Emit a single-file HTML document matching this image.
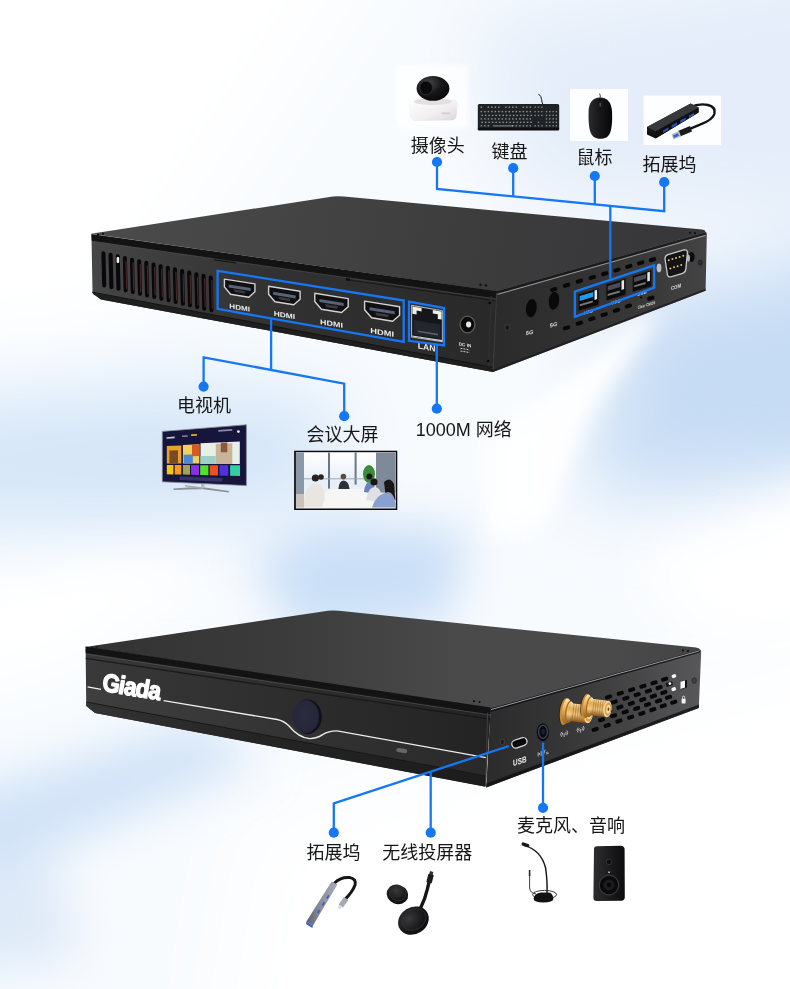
<!DOCTYPE html>
<html lang="zh-CN">
<head>
<meta charset="utf-8">
<title>Giada 接口示意</title>
<style>
html,body{margin:0;padding:0;background:#fff;}
body{width:790px;height:989px;overflow:hidden;font-family:"Liberation Sans", "Noto Sans CJK SC", sans-serif;}
svg{display:block;}
text{font-family:"Liberation Sans", "Noto Sans CJK SC", sans-serif;-webkit-font-smoothing:antialiased;}
svg{will-change:transform;}
.lb{font-size:18px;fill:#161616;}
.ln{fill:none;stroke:#1677f5;stroke-width:2.3;stroke-linejoin:miter;}
.dot{fill:#1677f5;}
</style>
</head>
<body>
<svg width="790" height="989" viewBox="0 0 790 989">
<defs>
<filter id="b60" x="-50%" y="-50%" width="200%" height="200%"><feGaussianBlur stdDeviation="40"/></filter>
<filter id="b30" x="-50%" y="-50%" width="200%" height="200%"><feGaussianBlur stdDeviation="24"/></filter>
<filter id="b12" x="-50%" y="-50%" width="200%" height="200%"><feGaussianBlur stdDeviation="10"/></filter>
<linearGradient id="tTop" gradientUnits="userSpaceOnUse" x1="100" y1="200" x2="640" y2="300"><stop offset="0" stop-color="#4b4b4c"/><stop offset="0.35" stop-color="#444445"/><stop offset="0.7" stop-color="#3c3c3d"/><stop offset="1" stop-color="#38383a"/></linearGradient>
<linearGradient id="tFront" gradientUnits="userSpaceOnUse" x1="92" y1="0" x2="495" y2="0"><stop offset="0" stop-color="#464647"/><stop offset="0.2" stop-color="#3c3c3d"/><stop offset="0.42" stop-color="#323233"/><stop offset="0.8" stop-color="#2c2c2d"/><stop offset="1" stop-color="#29292a"/></linearGradient>
<linearGradient id="tRight" gradientUnits="userSpaceOnUse" x1="497" y1="0" x2="708" y2="0"><stop offset="0" stop-color="#2b2b2c"/><stop offset="0.4" stop-color="#323233"/><stop offset="0.75" stop-color="#3a3a3b"/><stop offset="1" stop-color="#444445"/></linearGradient>
<linearGradient id="tShade" x1="0" y1="0" x2="0" y2="1"><stop offset="0" stop-color="#0c0c0d" stop-opacity="0.95"/><stop offset="0.55" stop-color="#0c0c0d" stop-opacity="0.55"/><stop offset="1" stop-color="#0c0c0d" stop-opacity="0"/></linearGradient>
<linearGradient id="bTop" gradientUnits="userSpaceOnUse" x1="100" y1="0" x2="700" y2="0"><stop offset="0" stop-color="#333334"/><stop offset="0.3" stop-color="#3b3b3c"/><stop offset="0.6" stop-color="#4a4a4b"/><stop offset="0.85" stop-color="#4a4a4b"/><stop offset="1" stop-color="#444445"/></linearGradient>
<linearGradient id="bFront" gradientUnits="userSpaceOnUse" x1="86" y1="0" x2="490" y2="0"><stop offset="0" stop-color="#39393a"/><stop offset="0.25" stop-color="#333334"/><stop offset="0.55" stop-color="#2c2c2d"/><stop offset="0.88" stop-color="#262627"/><stop offset="1" stop-color="#232324"/></linearGradient>
<linearGradient id="bLip" gradientUnits="userSpaceOnUse" x1="86" y1="0" x2="490" y2="0"><stop offset="0" stop-color="#343435"/><stop offset="0.4" stop-color="#252526"/><stop offset="1" stop-color="#1c1c1d"/></linearGradient>
<linearGradient id="bRight" gradientUnits="userSpaceOnUse" x1="490" y1="0" x2="701" y2="0"><stop offset="0" stop-color="#2c2c2d"/><stop offset="0.35" stop-color="#363637"/><stop offset="0.7" stop-color="#474748"/><stop offset="1" stop-color="#58585a"/></linearGradient>
<radialGradient id="btn" cx="0.45" cy="0.45" r="0.7"><stop offset="0" stop-color="#2c2c40"/><stop offset="0.8" stop-color="#25253a"/><stop offset="1" stop-color="#1a1a2a"/></radialGradient>
<linearGradient id="gold" x1="0" y1="0" x2="0" y2="1"><stop offset="0" stop-color="#fbe6b4"/><stop offset="0.45" stop-color="#e4ae56"/><stop offset="1" stop-color="#9a6422"/></linearGradient>
<linearGradient id="bShade" x1="0" y1="0" x2="0" y2="1"><stop offset="0" stop-color="#0c0c0d" stop-opacity="0.9"/><stop offset="0.5" stop-color="#0c0c0d" stop-opacity="0.4"/><stop offset="1" stop-color="#0c0c0d" stop-opacity="0"/></linearGradient>
<linearGradient id="gold2" x1="0" y1="0" x2="0" y2="1"><stop offset="0" stop-color="#fbe3b0"/><stop offset="0.3" stop-color="#e2aa58"/><stop offset="0.6" stop-color="#f0c988"/><stop offset="1" stop-color="#8a5418"/></linearGradient>
<radialGradient id="camBall" cx="0.35" cy="0.3" r="0.8"><stop offset="0" stop-color="#4a4a4e"/><stop offset="0.5" stop-color="#18181a"/><stop offset="1" stop-color="#050506"/></radialGradient>
<linearGradient id="camBase" x1="0" y1="0" x2="1" y2="1"><stop offset="0" stop-color="#ffffff"/><stop offset="0.6" stop-color="#f1eef0"/><stop offset="1" stop-color="#d9d3d8"/></linearGradient>
<linearGradient id="mouseG" x1="0" y1="0" x2="1" y2="0"><stop offset="0" stop-color="#2c2c2e"/><stop offset="0.4" stop-color="#1a1a1c"/><stop offset="1" stop-color="#070708"/></linearGradient>
<linearGradient id="hubG" x1="0" y1="0" x2="0" y2="1"><stop offset="0" stop-color="#3a3a3e"/><stop offset="1" stop-color="#0c0c0e"/></linearGradient>
<linearGradient id="winG" x1="0" y1="0" x2="0" y2="1"><stop offset="0" stop-color="#ffffff"/><stop offset="0.55" stop-color="#e6eef7"/><stop offset="1" stop-color="#f4f4f2"/></linearGradient>
<linearGradient id="hub2G" x1="0" y1="0" x2="1" y2="0"><stop offset="0" stop-color="#5e626e"/><stop offset="0.45" stop-color="#8a8e9a"/><stop offset="1" stop-color="#a9acb6"/></linearGradient>
<radialGradient id="discG" cx="0.4" cy="0.35" r="0.8"><stop offset="0" stop-color="#3a3a3c"/><stop offset="0.6" stop-color="#161618"/><stop offset="1" stop-color="#050506"/></radialGradient>
<linearGradient id="spkG" x1="0" y1="0" x2="1" y2="0"><stop offset="0" stop-color="#2e2e30"/><stop offset="0.5" stop-color="#1c1c1e"/><stop offset="1" stop-color="#0c0c0d"/></linearGradient>
<filter id="soft" x="-20%" y="-20%" width="140%" height="140%"><feGaussianBlur stdDeviation="2.5"/></filter>
</defs>
<rect width="790" height="989" fill="#f8fbfe"/>
<g filter="url(#b60)">
<polygon points="-150,-150 440,-150 120,330 -150,360" fill="#ffffff"/>
<polygon points="-120,410 150,385 340,400 330,510 120,530 -120,520" fill="#d4e5f8"/>
<polygon points="630,300 900,240 900,480 575,495" fill="#c6dbf4"/>
<polygon points="470,20 900,-60 900,230 520,200" fill="#e4edf9"/>
<polygon points="250,820 900,620 900,1150 200,1150" fill="#ffffff"/>
</g>
<g filter="url(#b30)">
<polygon points="250,560 330,520 470,530 450,620 300,640" fill="#cadff7"/>
<polygon points="-60,700 -60,590 120,555 230,560 60,670" fill="#ffffff"/>
<polygon points="-60,800 200,720 260,760 -60,900" fill="#d2e3f7"/>
<polygon points="640,560 840,470 840,640 700,640" fill="#ffffff"/>
<polygon points="-60,880 60,860 80,960 -60,980" fill="#dfeaf8"/>
</g>
<g filter="url(#b12)">
<polygon points="490,440 636,320 660,312 590,416 548,520 490,540" fill="#ffffff" opacity="0.92"/>
</g>
<g id="device-top">
<path d="M91.5 236 L497 291 L493 372 L101 299.6 L92.5 293 Z" fill="url(#tFront)"/>
<path d="M496.5 291 L705.4 232 Q706.9 232 706.8 234 L705.6 290.8 L493 372 Z" fill="url(#tRight)"/>
<path d="M91 233.8 L328 197.2 Q336 195.6 344 196.6 L702 229.6 Q706.6 230.4 705 232.4 L497 291.5 Z" fill="url(#tTop)"/>
<path d="M214 258.6 L236 261.7 L236 263.4 L214 260.3 Z" fill="#101011"/>
<path d="M346 277.6 L350 278.2 L350 281 L346 280.4 Z" fill="#0c0c0d"/>
<path d="M350 279.6 L497 300.2 L497 301.4 L350 280.8 Z" fill="#161617" opacity="0.8"/>
<path d="M91.2 233.9 L497 291.3 L497 298.5 L91.8 240.8 Z" fill="#131314"/>
<path d="M497 291.3 L705.6 232.6 L705.6 235.4 L497 295.5 Z" fill="#161618" opacity="0.85"/>
<path d="M497.4 294.4 L705.6 235.4" stroke="#a4a4a6" stroke-width="1.1" fill="none" opacity="0.85"/>
<path d="M92 241.6 L497 299.2" stroke="#4c4c4e" stroke-width="0.9" fill="none" opacity="0.6"/>
<path d="M92.5 292.4 L493 367.6 L493 372 L101 299.6 L93 294 Z" fill="#1f1f20"/>
<path d="M92.5 292.2 L493 367.4" stroke="#121213" stroke-width="1" fill="none"/>
<path d="M493 369.6 L705.6 288.6 L705.6 290.8 L493 372 Z" fill="#1a1a1b" opacity="0.7"/>
<line x1="103.4" y1="253.2" x2="104.2" y2="285.4" stroke="#08080a" stroke-width="4.1" stroke-linecap="round"/>
<line x1="110.6" y1="254.8" x2="111.4" y2="287.1" stroke="#08080a" stroke-width="4.1" stroke-linecap="round"/>
<line x1="117.7" y1="256.4" x2="118.5" y2="288.7" stroke="#08080a" stroke-width="4.1" stroke-linecap="round"/>
<line x1="124.9" y1="258.1" x2="125.7" y2="290.4" stroke="#08080a" stroke-width="4.1" stroke-linecap="round"/>
<line x1="125.9" y1="261.1" x2="126.6" y2="288.4" stroke="#4c262a" stroke-width="1.1" stroke-linecap="round"/>
<line x1="132.0" y1="259.7" x2="132.8" y2="292.0" stroke="#08080a" stroke-width="4.1" stroke-linecap="round"/>
<line x1="133.0" y1="262.7" x2="133.7" y2="290.0" stroke="#4c262a" stroke-width="1.1" stroke-linecap="round"/>
<line x1="139.2" y1="261.3" x2="140.0" y2="293.7" stroke="#08080a" stroke-width="4.1" stroke-linecap="round"/>
<line x1="140.2" y1="264.3" x2="140.8" y2="291.7" stroke="#4c262a" stroke-width="1.1" stroke-linecap="round"/>
<line x1="146.3" y1="262.9" x2="147.1" y2="295.4" stroke="#08080a" stroke-width="4.1" stroke-linecap="round"/>
<line x1="147.3" y1="265.9" x2="148.0" y2="293.4" stroke="#4c262a" stroke-width="1.1" stroke-linecap="round"/>
<line x1="153.5" y1="264.5" x2="154.3" y2="297.0" stroke="#08080a" stroke-width="4.1" stroke-linecap="round"/>
<line x1="154.5" y1="267.5" x2="155.2" y2="295.0" stroke="#4c262a" stroke-width="1.1" stroke-linecap="round"/>
<line x1="160.6" y1="266.2" x2="161.4" y2="298.7" stroke="#08080a" stroke-width="4.1" stroke-linecap="round"/>
<line x1="161.6" y1="269.2" x2="162.3" y2="296.7" stroke="#4c262a" stroke-width="1.1" stroke-linecap="round"/>
<line x1="167.8" y1="267.8" x2="168.6" y2="300.3" stroke="#08080a" stroke-width="4.1" stroke-linecap="round"/>
<line x1="168.8" y1="270.8" x2="169.4" y2="298.3" stroke="#4c262a" stroke-width="1.1" stroke-linecap="round"/>
<line x1="174.9" y1="269.4" x2="175.7" y2="302.0" stroke="#08080a" stroke-width="4.1" stroke-linecap="round"/>
<line x1="175.9" y1="272.4" x2="176.6" y2="300.0" stroke="#4c262a" stroke-width="1.1" stroke-linecap="round"/>
<line x1="182.1" y1="271.0" x2="182.9" y2="303.7" stroke="#08080a" stroke-width="4.1" stroke-linecap="round"/>
<line x1="183.1" y1="274.0" x2="183.8" y2="301.7" stroke="#4c262a" stroke-width="1.1" stroke-linecap="round"/>
<line x1="189.2" y1="272.6" x2="190.0" y2="305.3" stroke="#08080a" stroke-width="4.1" stroke-linecap="round"/>
<line x1="190.2" y1="275.6" x2="190.9" y2="303.3" stroke="#4c262a" stroke-width="1.1" stroke-linecap="round"/>
<line x1="196.4" y1="274.3" x2="197.2" y2="307.0" stroke="#08080a" stroke-width="4.1" stroke-linecap="round"/>
<line x1="197.4" y1="277.3" x2="198.1" y2="305.0" stroke="#4c262a" stroke-width="1.1" stroke-linecap="round"/>
<line x1="203.5" y1="275.9" x2="204.3" y2="308.6" stroke="#08080a" stroke-width="4.1" stroke-linecap="round"/>
<line x1="204.5" y1="278.9" x2="205.2" y2="306.6" stroke="#4c262a" stroke-width="1.1" stroke-linecap="round"/>
<line x1="210.7" y1="277.5" x2="211.5" y2="310.3" stroke="#08080a" stroke-width="4.1" stroke-linecap="round"/>
<line x1="211.7" y1="280.5" x2="212.3" y2="308.3" stroke="#4c262a" stroke-width="1.1" stroke-linecap="round"/>
<rect x="116.6" y="257" width="2.6" height="6" rx="1" fill="#f0f0f0"/>
<path d="M224.4 279.1 L254.9 283.9 L254.9 291.8 L248.8 297.2 L230.5 294.2 L224.4 286.9 Z" fill="#101012" stroke="#d2d2d4" stroke-width="1.4" stroke-linejoin="round"/>
<path d="M228.7 284.6 L250.7 288.1 L250.7 290.9 L228.7 287.4 Z" fill="#56637a"/>
<path d="M233.6 289.3 L245.8 291.3 L244.6 293.6 L234.8 292.1 Z" fill="#3a3a40"/>
<text transform="matrix(1 0.16 0 1 239.7 306.6)" text-anchor="middle" font-size="6.8" font-weight="700" fill="#ececec" textLength="20.7" lengthAdjust="spacingAndGlyphs" y="3.4">HDMI</text>
<path d="M268.6 286.2 L300.1 291.2 L300.1 299.2 L293.8 304.8 L274.9 301.8 L268.6 294.2 Z" fill="#101012" stroke="#d2d2d4" stroke-width="1.4" stroke-linejoin="round"/>
<path d="M273.1 291.8 L295.7 295.5 L295.7 298.4 L273.1 294.8 Z" fill="#56637a"/>
<path d="M278.1 296.7 L290.7 298.8 L289.4 301.2 L279.4 299.6 Z" fill="#3a3a40"/>
<text transform="matrix(1 0.16 0 1 284.4 314.0)" text-anchor="middle" font-size="6.9" font-weight="700" fill="#ececec" textLength="21.4" lengthAdjust="spacingAndGlyphs" y="3.5">HDMI</text>
<path d="M314.8 293.2 L348.2 298.6 L348.2 306.8 L341.6 312.5 L321.4 309.3 L314.8 301.5 Z" fill="#101012" stroke="#d2d2d4" stroke-width="1.4" stroke-linejoin="round"/>
<path d="M319.4 299.1 L343.6 302.9 L343.6 305.9 L319.4 302.1 Z" fill="#56637a"/>
<path d="M324.8 304.1 L338.2 306.3 L336.9 308.8 L326.1 307.0 Z" fill="#3a3a40"/>
<text transform="matrix(1 0.16 0 1 331.5 322.6)" text-anchor="middle" font-size="7.1" font-weight="700" fill="#ececec" textLength="22.8" lengthAdjust="spacingAndGlyphs" y="3.5">HDMI</text>
<path d="M364.6 301.1 L399.6 306.7 L399.6 315.3 L392.6 321.2 L371.6 317.8 L364.6 309.7 Z" fill="#101012" stroke="#d2d2d4" stroke-width="1.4" stroke-linejoin="round"/>
<path d="M369.5 307.2 L394.7 311.2 L394.7 314.3 L369.5 310.3 Z" fill="#56637a"/>
<path d="M375.1 312.5 L389.1 314.7 L387.7 317.3 L376.5 315.5 Z" fill="#3a3a40"/>
<text transform="matrix(1 0.16 0 1 382.1 331.4)" text-anchor="middle" font-size="7.3" font-weight="700" fill="#ececec" textLength="23.8" lengthAdjust="spacingAndGlyphs" y="3.6">HDMI</text>
<path d="M411.6 305.4 L442.4 310.8 L442.4 341.6 L411.6 337 Z" fill="#14161a" stroke="#aeb2b8" stroke-width="1.1" stroke-linejoin="round"/>
<path d="M412.4 306.4 L421.6 308 L421.6 311.4 L416.6 310.6 L416.6 314.4 L412.4 313.7 Z" fill="#eef0e6"/>
<path d="M432.8 310 L441.6 311.5 L441.6 319.6 L437.8 319 L437.8 314.2 L432.8 313.4 Z" fill="#eef0e0"/>
<path d="M414 320 L440.4 324.6 L440.4 338.6 L414 334.4 Z" fill="#23262c"/>
<path d="M418 330.4 L438 333.8 L438 335.4 L418 332 Z" fill="#6a6e76" opacity="0.8"/>
<path d="M412 336 L442 340.6" stroke="#d0d3d8" stroke-width="1.2" fill="none"/>
<text transform="matrix(1 0.16 0 1 426.5 350)" text-anchor="middle" font-size="8.6" font-weight="700" fill="#ededed">LAN</text>
<ellipse cx="467.5" cy="324.5" rx="7.4" ry="8.4" fill="#0a0a0b" stroke="#5c5c60" stroke-width="1.3"/>
<ellipse cx="468.6" cy="324.4" rx="2.6" ry="3" fill="#e6e6e6"/>
<text transform="matrix(1 0.16 0 1 465 346.5)" text-anchor="middle" font-size="4.6" font-weight="700" fill="#e0e0e0">DC IN</text>
<path d="M460.5 348.3 L469.5 349.8 M460.5 351 L469.5 352.5" stroke="#dcdcdc" stroke-width="0.9" stroke-dasharray="2 1" fill="none"/>
<path d="M490.3 296 L492.3 296.4 L489.5 367 L487.5 366.6 Z" fill="#2e2e30"/>
<circle cx="489.8" cy="303" r="1.3" fill="#050505"/><circle cx="488.2" cy="361" r="1.3" fill="#050505"/>
<path d="M496.6 293 L493.2 369" stroke="#3a3a3d" stroke-width="1.2" fill="none"/>
<circle cx="480.5" cy="284.8" r="1.2" fill="#111"/><circle cx="486" cy="285.4" r="1.2" fill="#111"/>
<circle cx="98" cy="234.6" r="1.1" fill="#111"/><circle cx="103" cy="233.9" r="1.1" fill="#111"/>
<circle cx="690" cy="232.8" r="1.1" fill="#111"/><circle cx="695" cy="233.2" r="1.1" fill="#111"/>
<ellipse cx="507.2" cy="327.6" rx="2.4" ry="2.9" fill="#141416" stroke="#4a4a4e" stroke-width="0.8"/>
<ellipse cx="700.2" cy="262.6" rx="2.1" ry="2.6" fill="#2e2e30" stroke="#1c1c1e" stroke-width="0.8"/>
<ellipse cx="531.3" cy="308.2" rx="5.4" ry="9.2" fill="#09090a" transform="rotate(8 531.3 308.2)"/>
<ellipse cx="554" cy="300.8" rx="5.2" ry="9" fill="#09090a" transform="rotate(8 554 300.8)"/>
<text transform="matrix(1 -0.3 0 1 529.5 334.5)" text-anchor="middle" font-size="5.6" font-weight="700" fill="#dedede">5G</text>
<text transform="matrix(1 -0.3 0 1 553.5 326.6)" text-anchor="middle" font-size="5.6" font-weight="700" fill="#dedede">5G</text>
<rect x="562.8" y="283.3" width="7.4" height="4.0" rx="1.8" fill="#070708" transform="rotate(-17 566.5 285.3)"/>
<rect x="575.7" y="279.2" width="7.4" height="4.0" rx="1.8" fill="#070708" transform="rotate(-17 579.4 281.2)"/>
<rect x="588.6" y="275.4" width="7.4" height="4.0" rx="1.8" fill="#070708" transform="rotate(-17 592.3 277.4)"/>
<rect x="601.1" y="271.7" width="7.4" height="4.0" rx="1.8" fill="#070708" transform="rotate(-17 604.8 273.7)"/>
<rect x="613.3" y="268.0" width="7.4" height="4.0" rx="1.8" fill="#070708" transform="rotate(-17 617.0 270.0)"/>
<rect x="625.2" y="264.4" width="7.4" height="4.0" rx="1.8" fill="#070708" transform="rotate(-17 628.9 266.4)"/>
<rect x="637.0" y="260.9" width="7.4" height="4.0" rx="1.8" fill="#070708" transform="rotate(-17 640.7 262.9)"/>
<rect x="648.8" y="257.7" width="7.4" height="4.0" rx="1.8" fill="#070708" transform="rotate(-17 652.5 259.7)"/>
<rect x="562.8" y="325.9" width="7.4" height="4.0" rx="1.8" fill="#070708" transform="rotate(-17 566.5 327.9)"/>
<rect x="575.7" y="321.2" width="7.4" height="4.0" rx="1.8" fill="#070708" transform="rotate(-17 579.4 323.2)"/>
<rect x="588.1" y="316.9" width="7.4" height="4.0" rx="1.8" fill="#070708" transform="rotate(-17 591.8 318.9)"/>
<rect x="600.4" y="312.6" width="7.4" height="4.0" rx="1.8" fill="#070708" transform="rotate(-17 604.1 314.6)"/>
<rect x="612.7" y="308.3" width="7.4" height="4.0" rx="1.8" fill="#070708" transform="rotate(-17 616.4 310.3)"/>
<rect x="624.7" y="304.0" width="7.4" height="4.0" rx="1.8" fill="#070708" transform="rotate(-17 628.4 306.0)"/>
<rect x="647.1" y="296.2" width="7.4" height="4.0" rx="1.8" fill="#070708" transform="rotate(-17 650.8 298.2)"/>
<rect x="550.0" y="287.5" width="7.4" height="4.0" rx="1.8" fill="#070708" transform="rotate(-17 553.7 289.5)"/>
<path d="M578.2 294.2 L598.8 288.0 L598.8 305.0 L578.2 311.2 Z" fill="#0b0b0c" stroke="#2d2d30" stroke-width="0.8"/>
<path d="M579.7 295.9 L593.3 291.9 L593.3 296.8 L579.7 300.9 Z" fill="#1e9be8"/>
<path d="M594.5 290.5 L597.1 289.7 L597.1 299.1 L594.5 299.9 Z" fill="#e8e8e8"/>
<path d="M579.7 304.3 L592.8 300.4 L592.8 302.4 L579.7 306.3 Z" fill="#77777c"/>
<path d="M606.2 284.2 L625.8 278.3 L625.8 294.9 L606.2 300.8 Z" fill="#0b0b0c" stroke="#2d2d30" stroke-width="0.8"/>
<path d="M607.7 285.9 L620.3 282.2 L620.3 286.9 L607.7 290.7 Z" fill="#4a4a58"/>
<path d="M621.5 280.8 L624.1 280.0 L624.1 289.1 L621.5 289.9 Z" fill="#e8e8e8"/>
<path d="M607.7 294.0 L619.8 290.4 L619.8 292.4 L607.7 296.0 Z" fill="#77777c"/>
<path d="M632.6 275.8 L651.6 270.1 L651.6 286.3 L632.6 292.0 Z" fill="#0b0b0c" stroke="#2d2d30" stroke-width="0.8"/>
<path d="M634.1 277.6 L646.1 273.9 L646.1 278.6 L634.1 282.2 Z" fill="#4a4a58"/>
<path d="M647.3 272.6 L649.9 271.8 L649.9 280.7 L647.3 281.4 Z" fill="#e8e8e8"/>
<path d="M634.1 285.4 L645.6 281.9 L645.6 283.9 L634.1 287.3 Z" fill="#77777c"/>
<text transform="matrix(1 -0.3 0 1 588.5 313.4)" text-anchor="middle" font-size="4.4" font-weight="700" fill="#d8d8d8">USB</text>
<text transform="matrix(1 -0.3 0 1 616.0 303.4)" text-anchor="middle" font-size="4.4" font-weight="700" fill="#d8d8d8">USB</text>
<text transform="matrix(1 -0.3 0 1 642.0 294.8)" text-anchor="middle" font-size="4.4" font-weight="700" fill="#d8d8d8">USB</text>
<text transform="matrix(1 -0.3 0 1 646.5 306.5)" text-anchor="middle" font-size="4.4" font-weight="700" fill="#dcdcdc" textLength="17.5" lengthAdjust="spacingAndGlyphs">Clear CMOS</text>
<circle cx="641.2" cy="297.6" r="1.1" fill="#050505"/>
<ellipse cx="659" cy="268" rx="2.4" ry="4.4" fill="#c0c0c4"/>
<ellipse cx="691.6" cy="257" rx="3" ry="5" fill="#0a0a0a"/>
<ellipse cx="688.4" cy="258" rx="1.6" ry="3.6" fill="#b8b8bc"/>
<path d="M665 258.6 Q665 255.6 668 254.7 L684 250 Q687.4 249.2 687.4 252.6 L685.8 269.4 Q685.4 272.4 682.6 273.3 L671 276.8 Q668 277.5 667.4 274.6 Z" fill="#141417" stroke="#c8c8cc" stroke-width="1.3"/>
<circle cx="668.8" cy="260.2" r="1.0" fill="#e8bc70"/>
<circle cx="672.4" cy="259.1" r="1.0" fill="#e8bc70"/>
<circle cx="676.0" cy="258.0" r="1.0" fill="#e8bc70"/>
<circle cx="679.6" cy="256.9" r="1.0" fill="#e8bc70"/>
<circle cx="683.2" cy="255.8" r="1.0" fill="#e8bc70"/>
<circle cx="670.4" cy="268.4" r="1.0" fill="#e8bc70"/>
<circle cx="674.0" cy="267.3" r="1.0" fill="#e8bc70"/>
<circle cx="677.6" cy="266.2" r="1.0" fill="#e8bc70"/>
<circle cx="681.2" cy="265.1" r="1.0" fill="#e8bc70"/>
<text transform="matrix(0.8 -0.24 0 1 676 288.8)" text-anchor="middle" font-size="5.4" font-weight="700" fill="#e0e0e0">COM</text>
</g>
<g id="device-bottom">
<path d="M85.6 649 L491 708 L485.4 786.5 L95 713 L86.3 706 Z" fill="url(#bFront)"/>
<path d="M86.3 702 L486.2 776 L485.4 786.8 L95 713 L86.3 706 Z" fill="url(#bLip)"/>
<path d="M86.3 702 L486.2 776" stroke="#18181a" stroke-width="1" fill="none"/>
<path d="M163.5 701.4 L283 722.6 L486 758 L486.2 775.4 L86.3 701.6 L87 688 Z" fill="#ffffff" opacity="0.03"/>
<path d="M490.6 708 L699.5 649.6 Q701.3 649.4 701.2 651.4 L698.8 708 L486.2 787.4 Z" fill="url(#bRight)"/>
<path d="M85.3 647 L323 611.4 Q331 609.8 339 610.8 L696 647.6 Q701 648.6 699 650.6 L490.6 708.6 Z" fill="url(#bTop)"/>
<path d="M85.8 658.4 L490.2 719.2" stroke="#161617" stroke-width="1.3" fill="none" opacity="0.85"/>
<path d="M86 654 L490.4 715" stroke="#545456" stroke-width="0.9" fill="none" opacity="0.7"/>
<path d="M85.4 646.6 L490.6 707.4 L490.4 714.2 L85.8 653 Z" fill="#131314"/>
<path d="M490.6 708.3 L700 649.8 L700 652.6 L490.4 712 Z" fill="#121214" opacity="0.9"/>
<path d="M491 709.6 L699.6 650.8" stroke="#b4b4b6" stroke-width="1" fill="none" opacity="0.85"/>
<path d="M486.4 783.4 L699 704.6 L698.8 708 L486.2 787.4 Z" fill="#101012" opacity="0.8"/>
<circle cx="92" cy="648.3" r="1.1" fill="#111"/><circle cx="96.6" cy="647.7" r="1.1" fill="#111"/>
<circle cx="474" cy="701.2" r="1.1" fill="#111"/><circle cx="479.5" cy="702" r="1.1" fill="#111"/>
<circle cx="683" cy="650.4" r="1.1" fill="#111"/><circle cx="688" cy="650.8" r="1.1" fill="#111"/>
<text transform="matrix(0.865 0.142 0 1 102.4 690.8)" font-size="25.6" font-weight="700" font-style="italic" fill="#ffffff" stroke="#ffffff" stroke-width="1.4" stroke-linejoin="round" letter-spacing="-0.9">Giada</text>
<path d="M87.6 686.8 L101 689.3" stroke="#f2f2f2" stroke-width="1.3" fill="none"/>
<path d="M163.5 700.6 L277 719.5 Q284 720.8 289 726 Q299 738 309.6 738.6 Q317 738.6 323 734.4 Q329 730.6 337 730.8 L486 757.7" stroke="#ececec" stroke-width="1.3" fill="none"/>
<ellipse cx="307.4" cy="716.8" rx="14.4" ry="17.4" fill="#101018"/>
<ellipse cx="305.6" cy="716.6" rx="13.4" ry="16.6" fill="url(#btn)"/>
<rect x="396.3" y="748.5" width="11" height="4.2" rx="2.1" fill="#66666e" transform="rotate(10 401.8 750.6)"/>
<path d="M487.6 712.5 L485.6 786" stroke="#3c3c3f" stroke-width="1.2" fill="none"/>
<ellipse cx="502.3" cy="741.9" rx="2.2" ry="2.8" fill="#1c1c1e" stroke="#48484c" stroke-width="0.8"/>
<ellipse cx="694.2" cy="680.6" rx="2.2" ry="2.8" fill="#424244" stroke="#2a2a2c" stroke-width="0.8"/>
<rect x="511.6" y="738.8" width="15.6" height="8" rx="4" fill="#08080a" stroke="#dcdcde" stroke-width="1.3" transform="rotate(-19 519.4 742.8)"/>
<text transform="matrix(0.74 -0.22 0 1 519.8 764)" text-anchor="middle" font-size="8.6" font-weight="700" fill="#f0f0f0">USB</text>
<ellipse cx="542.8" cy="732.2" rx="6" ry="9" fill="#0a0a0c"/>
<ellipse cx="543" cy="731.8" rx="4.4" ry="6.6" fill="#0a0a0e" stroke="#3a4660" stroke-width="1.3"/>
<ellipse cx="543.2" cy="731.6" rx="1.8" ry="2.8" fill="#1c2030"/>
<g transform="matrix(1 -0.3 0 1 542.8 753)" stroke="#e0e0e0" stroke-width="0.7" fill="none"><path d="M-4.6 -2 v4 M-3.2 -1 v2 M-1.6 -2.4 v4.8 M0.4 2.6 l2 -5.2 M3.4 0.6 h1.6 M3.4 2 h2.4"/></g>
<g transform="matrix(1 -0.3 0 1 564.2 734)" stroke="#dcdcdc" stroke-width="0.7" fill="none"><path d="M0 -0.6 v3.6 M-1.4 -1.8 q-1 1.4 0 2.8 M1.4 -1.8 q1 1.4 0 2.8 M-2.6 -2.8 q-1.8 2.4 0 4.8 M2.6 -2.8 q1.8 2.4 0 4.8"/></g>
<g transform="matrix(1 -0.3 0 1 580.6 729.6)" stroke="#dcdcdc" stroke-width="0.7" fill="none"><path d="M0 -0.6 v3.6 M-1.4 -1.8 q-1 1.4 0 2.8 M1.4 -1.8 q1 1.4 0 2.8 M-2.6 -2.8 q-1.8 2.4 0 4.8 M2.6 -2.8 q1.8 2.4 0 4.8"/></g>
<rect x="604.9" y="695.0" width="7.2" height="4.0" rx="1.5" fill="#08080a" transform="rotate(-18 608.5 697.0)"/>
<rect x="616.7" y="691.3" width="7.2" height="4.0" rx="1.5" fill="#08080a" transform="rotate(-18 620.3 693.3)"/>
<rect x="628.0" y="687.7" width="7.2" height="4.0" rx="1.5" fill="#08080a" transform="rotate(-18 631.6 689.7)"/>
<rect x="639.3" y="684.2" width="7.2" height="4.0" rx="1.5" fill="#08080a" transform="rotate(-18 642.9 686.2)"/>
<rect x="650.5" y="680.8" width="7.2" height="4.0" rx="1.5" fill="#08080a" transform="rotate(-18 654.1 682.8)"/>
<rect x="661.0" y="677.2" width="7.2" height="4.0" rx="1.5" fill="#08080a" transform="rotate(-18 664.6 679.2)"/>
<rect x="610.6" y="700.0" width="7.2" height="4.0" rx="1.5" fill="#08080a" transform="rotate(-18 614.2 702.0)"/>
<rect x="622.2" y="696.2" width="7.2" height="4.0" rx="1.5" fill="#08080a" transform="rotate(-18 625.8 698.2)"/>
<rect x="633.6" y="692.6" width="7.2" height="4.0" rx="1.5" fill="#08080a" transform="rotate(-18 637.2 694.6)"/>
<rect x="644.8" y="689.0" width="7.2" height="4.0" rx="1.5" fill="#08080a" transform="rotate(-18 648.4 691.0)"/>
<rect x="655.5" y="685.6" width="7.2" height="4.0" rx="1.5" fill="#08080a" transform="rotate(-18 659.1 687.6)"/>
<rect x="604.9" y="708.6" width="7.2" height="4.0" rx="1.5" fill="#08080a" transform="rotate(-18 608.5 710.6)"/>
<rect x="616.3" y="705.1" width="7.2" height="4.0" rx="1.5" fill="#08080a" transform="rotate(-18 619.9 707.1)"/>
<rect x="627.7" y="701.4" width="7.2" height="4.0" rx="1.5" fill="#08080a" transform="rotate(-18 631.3 703.4)"/>
<rect x="639.1" y="697.6" width="7.2" height="4.0" rx="1.5" fill="#08080a" transform="rotate(-18 642.7 699.6)"/>
<rect x="649.8" y="694.1" width="7.2" height="4.0" rx="1.5" fill="#08080a" transform="rotate(-18 653.4 696.1)"/>
<rect x="660.2" y="690.5" width="7.2" height="4.0" rx="1.5" fill="#08080a" transform="rotate(-18 663.8 692.5)"/>
<rect x="597.9" y="717.7" width="7.2" height="4.0" rx="1.5" fill="#08080a" transform="rotate(-18 601.5 719.7)"/>
<rect x="609.9" y="713.7" width="7.2" height="4.0" rx="1.5" fill="#08080a" transform="rotate(-18 613.5 715.7)"/>
<rect x="621.6" y="709.9" width="7.2" height="4.0" rx="1.5" fill="#08080a" transform="rotate(-18 625.2 711.9)"/>
<rect x="633.0" y="706.4" width="7.2" height="4.0" rx="1.5" fill="#08080a" transform="rotate(-18 636.6 708.4)"/>
<rect x="643.9" y="702.6" width="7.2" height="4.0" rx="1.5" fill="#08080a" transform="rotate(-18 647.5 704.6)"/>
<rect x="654.9" y="698.9" width="7.2" height="4.0" rx="1.5" fill="#08080a" transform="rotate(-18 658.5 700.9)"/>
<rect x="665.0" y="695.3" width="7.2" height="4.0" rx="1.5" fill="#08080a" transform="rotate(-18 668.6 697.3)"/>
<rect x="591.6" y="727.4" width="7.2" height="4.0" rx="1.5" fill="#08080a" transform="rotate(-18 595.2 729.4)"/>
<rect x="603.6" y="723.4" width="7.2" height="4.0" rx="1.5" fill="#08080a" transform="rotate(-18 607.2 725.4)"/>
<rect x="615.3" y="719.1" width="7.2" height="4.0" rx="1.5" fill="#08080a" transform="rotate(-18 618.9 721.1)"/>
<rect x="627.0" y="715.2" width="7.2" height="4.0" rx="1.5" fill="#08080a" transform="rotate(-18 630.6 717.2)"/>
<rect x="638.2" y="711.4" width="7.2" height="4.0" rx="1.5" fill="#08080a" transform="rotate(-18 641.8 713.4)"/>
<rect x="649.2" y="707.6" width="7.2" height="4.0" rx="1.5" fill="#08080a" transform="rotate(-18 652.8 709.6)"/>
<rect x="659.7" y="703.8" width="7.2" height="4.0" rx="1.5" fill="#08080a" transform="rotate(-18 663.3 705.8)"/>
<rect x="670.1" y="700.2" width="7.2" height="4.0" rx="1.5" fill="#08080a" transform="rotate(-18 673.7 702.2)"/>
<rect x="665.6" y="682.1" width="7.2" height="4.0" rx="1.5" fill="#141416" transform="rotate(-18 669.2 684.1)"/>
<circle cx="669.9" cy="683.6" r="1.4" fill="#f2f4f6"/>
<rect x="671.6" y="674.3" width="4.6" height="3.6" rx="1.5" fill="#f4f6f8" transform="rotate(-18 673.9 676.1)"/>
<rect x="671.4" y="687.3" width="4.6" height="3.6" rx="1.5" fill="#f4f6f8" transform="rotate(-18 673.7 689.1)"/>
<path d="M680.4 681.6 L686 680 Q687 679.8 687 680.8 L687 686.8 Q687 687.6 686.2 687.8 L681 689.2 Q680.4 689.2 680.4 688.4 Z" fill="#101012"/>
<path d="M680.4 681.8 L685 680.5 L685 687.6 L680.4 688.9 Z" fill="#f6f6f6"/>
<rect x="681.6" y="698.8" width="4" height="4.6" rx="0.6" fill="#f0f0f0"/><path d="M682.5 698.8 v-1.4 a1.1 1.3 0 0 1 2.2 0 v1.4" stroke="#f0f0f0" stroke-width="0.8" fill="none"/>
<g transform="translate(575.8 712.8) scale(1.06) rotate(7)">
<ellipse cx="-12.6" cy="0" rx="3.4" ry="11.2" fill="#2a1c0a" opacity="0.55"/>
<ellipse cx="-10.4" cy="0" rx="4.6" ry="12.8" fill="#c98c34"/>
<ellipse cx="-9" cy="-0.4" rx="4.2" ry="12" fill="url(#gold)"/>
<ellipse cx="-6.4" cy="0" rx="3.6" ry="10.6" fill="#a66a1e"/>
<ellipse cx="-5.4" cy="0" rx="3.4" ry="10" fill="url(#gold2)"/>
<rect x="-5" y="-8.4" width="17" height="16.8" rx="1.5" fill="url(#gold2)"/>
<line x1="-2.6" y1="-8" x2="-2.6" y2="8" stroke="#9a6420" stroke-width="0.7" opacity="0.75"/>
<line x1="-0.3" y1="-8" x2="-0.3" y2="8" stroke="#9a6420" stroke-width="0.7" opacity="0.75"/>
<line x1="2.0" y1="-8" x2="2.0" y2="8" stroke="#9a6420" stroke-width="0.7" opacity="0.75"/>
<line x1="4.3" y1="-8" x2="4.3" y2="8" stroke="#9a6420" stroke-width="0.7" opacity="0.75"/>
<line x1="6.6" y1="-8" x2="6.6" y2="8" stroke="#9a6420" stroke-width="0.7" opacity="0.75"/>
<line x1="8.9" y1="-8" x2="8.9" y2="8" stroke="#9a6420" stroke-width="0.7" opacity="0.75"/>
<ellipse cx="12" cy="0" rx="4.2" ry="8.4" fill="#f2d596"/>
<ellipse cx="12.6" cy="0" rx="3.3" ry="6.8" fill="#d69a42"/>
<ellipse cx="12.9" cy="0" rx="2.1" ry="4.6" fill="#f3dcae"/>
<ellipse cx="13" cy="0" rx="0.9" ry="1.8" fill="#6a4212"/>
</g>
<g transform="translate(595.8 707.6) scale(0.98) rotate(7)">
<ellipse cx="-12.6" cy="0" rx="3.4" ry="11.2" fill="#2a1c0a" opacity="0.55"/>
<ellipse cx="-10.4" cy="0" rx="4.6" ry="12.8" fill="#c98c34"/>
<ellipse cx="-9" cy="-0.4" rx="4.2" ry="12" fill="url(#gold)"/>
<ellipse cx="-6.4" cy="0" rx="3.6" ry="10.6" fill="#a66a1e"/>
<ellipse cx="-5.4" cy="0" rx="3.4" ry="10" fill="url(#gold2)"/>
<rect x="-5" y="-8.4" width="17" height="16.8" rx="1.5" fill="url(#gold2)"/>
<line x1="-2.6" y1="-8" x2="-2.6" y2="8" stroke="#9a6420" stroke-width="0.7" opacity="0.75"/>
<line x1="-0.3" y1="-8" x2="-0.3" y2="8" stroke="#9a6420" stroke-width="0.7" opacity="0.75"/>
<line x1="2.0" y1="-8" x2="2.0" y2="8" stroke="#9a6420" stroke-width="0.7" opacity="0.75"/>
<line x1="4.3" y1="-8" x2="4.3" y2="8" stroke="#9a6420" stroke-width="0.7" opacity="0.75"/>
<line x1="6.6" y1="-8" x2="6.6" y2="8" stroke="#9a6420" stroke-width="0.7" opacity="0.75"/>
<line x1="8.9" y1="-8" x2="8.9" y2="8" stroke="#9a6420" stroke-width="0.7" opacity="0.75"/>
<ellipse cx="12" cy="0" rx="4.2" ry="8.4" fill="#f2d596"/>
<ellipse cx="12.6" cy="0" rx="3.3" ry="6.8" fill="#d69a42"/>
<ellipse cx="12.9" cy="0" rx="2.1" ry="4.6" fill="#f3dcae"/>
<ellipse cx="13" cy="0" rx="0.9" ry="1.8" fill="#6a4212"/>
</g>
</g>
<g id="icon-camera">
<rect x="398" y="66" width="70" height="62" fill="#ffffff" opacity="0.8" filter="url(#soft)"/>
<path d="M408 103.5 Q408 100.8 411 100.6 L453.5 99.4 Q457.5 99.4 457.6 103 L456.6 115.5 Q456.2 119.6 451.6 120.2 L416.5 121 Q411 121 410 116.6 Z" fill="url(#camBase)"/>
<ellipse cx="432.8" cy="101.6" rx="19" ry="3.4" fill="#e4dfe3"/>
<ellipse cx="433" cy="88.4" rx="16.4" ry="12.4" fill="url(#camBall)"/>
<ellipse cx="426" cy="88" rx="6.5" ry="6.8" fill="#0a0a0c" stroke="#2c2c30" stroke-width="1"/>
<rect x="441.6" y="112.6" width="8.6" height="1.6" rx="0.5" fill="#d3cdd2"/>
</g>
<g id="icon-keyboard">
<path d="M538.4 93.9 Q541.4 96 541.6 99.6 Q541.8 102.4 542.8 104.2" stroke="#1a1a1c" stroke-width="1" fill="none"/>
<rect x="477.8" y="104" width="81.4" height="26" rx="1.6" fill="#1f2226"/>
<rect x="477.8" y="127.8" width="81.4" height="2.6" rx="1.2" fill="#0e0f11"/>
<rect x="480.60" y="106.50" width="1.5" height="1.4" fill="#d8d8c8" opacity="0.62"/>
<rect x="487.60" y="106.50" width="1.5" height="1.4" fill="#d8d8c8" opacity="0.62"/>
<rect x="491.10" y="106.50" width="1.5" height="1.4" fill="#d8d8c8" opacity="0.62"/>
<rect x="494.60" y="106.50" width="1.5" height="1.4" fill="#d8d8c8" opacity="0.62"/>
<rect x="498.10" y="106.50" width="1.5" height="1.4" fill="#d8d8c8" opacity="0.62"/>
<rect x="505.10" y="106.50" width="1.5" height="1.4" fill="#d8d8c8" opacity="0.62"/>
<rect x="508.60" y="106.50" width="1.5" height="1.4" fill="#d8d8c8" opacity="0.62"/>
<rect x="512.10" y="106.50" width="1.5" height="1.4" fill="#d8d8c8" opacity="0.62"/>
<rect x="515.60" y="106.50" width="1.5" height="1.4" fill="#d8d8c8" opacity="0.62"/>
<rect x="522.60" y="106.50" width="1.5" height="1.4" fill="#d8d8c8" opacity="0.62"/>
<rect x="526.10" y="106.50" width="1.5" height="1.4" fill="#d8d8c8" opacity="0.62"/>
<rect x="529.60" y="106.50" width="1.5" height="1.4" fill="#d8d8c8" opacity="0.62"/>
<rect x="534.40" y="106.50" width="1.4" height="1.4" fill="#d8d8c8" opacity="0.55"/>
<rect x="537.80" y="106.50" width="1.4" height="1.4" fill="#d8d8c8" opacity="0.55"/>
<rect x="541.20" y="106.50" width="1.4" height="1.4" fill="#d8d8c8" opacity="0.55"/>
<rect x="480.60" y="110.90" width="1.5" height="1.4" fill="#d8d8c8" opacity="0.62"/>
<rect x="484.10" y="110.90" width="1.5" height="1.4" fill="#d8d8c8" opacity="0.62"/>
<rect x="487.60" y="110.90" width="1.5" height="1.4" fill="#d8d8c8" opacity="0.62"/>
<rect x="491.10" y="110.90" width="1.5" height="1.4" fill="#d8d8c8" opacity="0.62"/>
<rect x="494.60" y="110.90" width="1.5" height="1.4" fill="#d8d8c8" opacity="0.62"/>
<rect x="498.10" y="110.90" width="1.5" height="1.4" fill="#d8d8c8" opacity="0.62"/>
<rect x="501.60" y="110.90" width="1.5" height="1.4" fill="#d8d8c8" opacity="0.62"/>
<rect x="505.10" y="110.90" width="1.5" height="1.4" fill="#d8d8c8" opacity="0.62"/>
<rect x="508.60" y="110.90" width="1.5" height="1.4" fill="#d8d8c8" opacity="0.62"/>
<rect x="512.10" y="110.90" width="1.5" height="1.4" fill="#d8d8c8" opacity="0.62"/>
<rect x="515.60" y="110.90" width="1.5" height="1.4" fill="#d8d8c8" opacity="0.62"/>
<rect x="519.10" y="110.90" width="1.5" height="1.4" fill="#d8d8c8" opacity="0.62"/>
<rect x="522.60" y="110.90" width="1.5" height="1.4" fill="#d8d8c8" opacity="0.62"/>
<rect x="526.10" y="110.90" width="1.5" height="1.4" fill="#d8d8c8" opacity="0.62"/>
<rect x="529.60" y="110.90" width="1.5" height="1.4" fill="#d8d8c8" opacity="0.62"/>
<rect x="534.40" y="110.90" width="1.4" height="1.4" fill="#d8d8c8" opacity="0.55"/>
<rect x="537.80" y="110.90" width="1.4" height="1.4" fill="#d8d8c8" opacity="0.55"/>
<rect x="541.20" y="110.90" width="1.4" height="1.4" fill="#d8d8c8" opacity="0.55"/>
<rect x="545.80" y="110.90" width="1.4" height="1.4" fill="#d8d8c8" opacity="0.58"/>
<rect x="549.10" y="110.90" width="1.4" height="1.4" fill="#d8d8c8" opacity="0.58"/>
<rect x="552.40" y="110.90" width="1.4" height="1.4" fill="#d8d8c8" opacity="0.58"/>
<rect x="555.70" y="110.90" width="1.4" height="1.4" fill="#d8d8c8" opacity="0.58"/>
<rect x="481.40" y="114.70" width="1.5" height="1.4" fill="#d8d8c8" opacity="0.62"/>
<rect x="484.90" y="114.70" width="1.5" height="1.4" fill="#d8d8c8" opacity="0.62"/>
<rect x="488.40" y="114.70" width="1.5" height="1.4" fill="#d8d8c8" opacity="0.62"/>
<rect x="491.90" y="114.70" width="1.5" height="1.4" fill="#d8d8c8" opacity="0.62"/>
<rect x="495.40" y="114.70" width="1.5" height="1.4" fill="#d8d8c8" opacity="0.62"/>
<rect x="498.90" y="114.70" width="1.5" height="1.4" fill="#d8d8c8" opacity="0.62"/>
<rect x="502.40" y="114.70" width="1.5" height="1.4" fill="#d8d8c8" opacity="0.62"/>
<rect x="505.90" y="114.70" width="1.5" height="1.4" fill="#d8d8c8" opacity="0.62"/>
<rect x="509.40" y="114.70" width="1.5" height="1.4" fill="#d8d8c8" opacity="0.62"/>
<rect x="512.90" y="114.70" width="1.5" height="1.4" fill="#d8d8c8" opacity="0.62"/>
<rect x="516.40" y="114.70" width="1.5" height="1.4" fill="#d8d8c8" opacity="0.62"/>
<rect x="519.90" y="114.70" width="1.5" height="1.4" fill="#d8d8c8" opacity="0.62"/>
<rect x="523.40" y="114.70" width="1.5" height="1.4" fill="#d8d8c8" opacity="0.62"/>
<rect x="526.90" y="114.70" width="1.5" height="1.4" fill="#d8d8c8" opacity="0.62"/>
<rect x="530.40" y="114.70" width="1.5" height="1.4" fill="#d8d8c8" opacity="0.62"/>
<rect x="534.40" y="114.70" width="1.4" height="1.4" fill="#d8d8c8" opacity="0.55"/>
<rect x="537.80" y="114.70" width="1.4" height="1.4" fill="#d8d8c8" opacity="0.55"/>
<rect x="541.20" y="114.70" width="1.4" height="1.4" fill="#d8d8c8" opacity="0.55"/>
<rect x="545.80" y="114.70" width="1.4" height="1.4" fill="#d8d8c8" opacity="0.58"/>
<rect x="549.10" y="114.70" width="1.4" height="1.4" fill="#d8d8c8" opacity="0.58"/>
<rect x="552.40" y="114.70" width="1.4" height="1.4" fill="#d8d8c8" opacity="0.58"/>
<rect x="555.70" y="114.70" width="1.4" height="1.4" fill="#d8d8c8" opacity="0.58"/>
<rect x="480.60" y="118.20" width="1.5" height="1.4" fill="#d8d8c8" opacity="0.62"/>
<rect x="484.10" y="118.20" width="1.5" height="1.4" fill="#d8d8c8" opacity="0.62"/>
<rect x="487.60" y="118.20" width="1.5" height="1.4" fill="#d8d8c8" opacity="0.62"/>
<rect x="491.10" y="118.20" width="1.5" height="1.4" fill="#d8d8c8" opacity="0.62"/>
<rect x="494.60" y="118.20" width="1.5" height="1.4" fill="#d8d8c8" opacity="0.62"/>
<rect x="498.10" y="118.20" width="1.5" height="1.4" fill="#d8d8c8" opacity="0.62"/>
<rect x="501.60" y="118.20" width="1.5" height="1.4" fill="#d8d8c8" opacity="0.62"/>
<rect x="505.10" y="118.20" width="1.5" height="1.4" fill="#d8d8c8" opacity="0.62"/>
<rect x="508.60" y="118.20" width="1.5" height="1.4" fill="#d8d8c8" opacity="0.62"/>
<rect x="512.10" y="118.20" width="1.5" height="1.4" fill="#d8d8c8" opacity="0.62"/>
<rect x="515.60" y="118.20" width="1.5" height="1.4" fill="#d8d8c8" opacity="0.62"/>
<rect x="519.10" y="118.20" width="1.5" height="1.4" fill="#d8d8c8" opacity="0.62"/>
<rect x="522.60" y="118.20" width="1.5" height="1.4" fill="#d8d8c8" opacity="0.62"/>
<rect x="526.10" y="118.20" width="1.5" height="1.4" fill="#d8d8c8" opacity="0.62"/>
<rect x="529.60" y="118.20" width="1.5" height="1.4" fill="#d8d8c8" opacity="0.62"/>
<rect x="545.80" y="118.20" width="1.4" height="1.4" fill="#d8d8c8" opacity="0.58"/>
<rect x="549.10" y="118.20" width="1.4" height="1.4" fill="#d8d8c8" opacity="0.58"/>
<rect x="552.40" y="118.20" width="1.4" height="1.4" fill="#d8d8c8" opacity="0.58"/>
<rect x="555.70" y="118.20" width="1.4" height="1.4" fill="#d8d8c8" opacity="0.58"/>
<rect x="481.40" y="121.60" width="1.5" height="1.4" fill="#d8d8c8" opacity="0.62"/>
<rect x="484.90" y="121.60" width="1.5" height="1.4" fill="#d8d8c8" opacity="0.62"/>
<rect x="488.40" y="121.60" width="1.5" height="1.4" fill="#d8d8c8" opacity="0.62"/>
<rect x="491.90" y="121.60" width="1.5" height="1.4" fill="#d8d8c8" opacity="0.62"/>
<rect x="495.40" y="121.60" width="1.5" height="1.4" fill="#d8d8c8" opacity="0.62"/>
<rect x="498.90" y="121.60" width="1.5" height="1.4" fill="#d8d8c8" opacity="0.62"/>
<rect x="502.40" y="121.60" width="1.5" height="1.4" fill="#d8d8c8" opacity="0.62"/>
<rect x="505.90" y="121.60" width="1.5" height="1.4" fill="#d8d8c8" opacity="0.62"/>
<rect x="509.40" y="121.60" width="1.5" height="1.4" fill="#d8d8c8" opacity="0.62"/>
<rect x="512.90" y="121.60" width="1.5" height="1.4" fill="#d8d8c8" opacity="0.62"/>
<rect x="516.40" y="121.60" width="1.5" height="1.4" fill="#d8d8c8" opacity="0.62"/>
<rect x="519.90" y="121.60" width="1.5" height="1.4" fill="#d8d8c8" opacity="0.62"/>
<rect x="523.40" y="121.60" width="1.5" height="1.4" fill="#d8d8c8" opacity="0.62"/>
<rect x="526.90" y="121.60" width="1.5" height="1.4" fill="#d8d8c8" opacity="0.62"/>
<rect x="530.40" y="121.60" width="1.5" height="1.4" fill="#d8d8c8" opacity="0.62"/>
<rect x="537.80" y="121.60" width="1.4" height="1.4" fill="#d8d8c8" opacity="0.55"/>
<rect x="545.80" y="121.60" width="1.4" height="1.4" fill="#d8d8c8" opacity="0.58"/>
<rect x="549.10" y="121.60" width="1.4" height="1.4" fill="#d8d8c8" opacity="0.58"/>
<rect x="552.40" y="121.60" width="1.4" height="1.4" fill="#d8d8c8" opacity="0.58"/>
<rect x="555.70" y="121.60" width="1.4" height="1.4" fill="#d8d8c8" opacity="0.58"/>
<rect x="480.60" y="125.10" width="1.5" height="1.4" fill="#d8d8c8" opacity="0.62"/>
<rect x="484.10" y="125.10" width="1.5" height="1.4" fill="#d8d8c8" opacity="0.62"/>
<rect x="487.60" y="125.10" width="1.5" height="1.4" fill="#d8d8c8" opacity="0.62"/>
<rect x="512.10" y="125.10" width="1.5" height="1.4" fill="#d8d8c8" opacity="0.62"/>
<rect x="515.60" y="125.10" width="1.5" height="1.4" fill="#d8d8c8" opacity="0.62"/>
<rect x="519.10" y="125.10" width="1.5" height="1.4" fill="#d8d8c8" opacity="0.62"/>
<rect x="522.60" y="125.10" width="1.5" height="1.4" fill="#d8d8c8" opacity="0.62"/>
<rect x="526.10" y="125.10" width="1.5" height="1.4" fill="#d8d8c8" opacity="0.62"/>
<rect x="529.60" y="125.10" width="1.5" height="1.4" fill="#d8d8c8" opacity="0.62"/>
<rect x="534.40" y="125.10" width="1.4" height="1.4" fill="#d8d8c8" opacity="0.55"/>
<rect x="537.80" y="125.10" width="1.4" height="1.4" fill="#d8d8c8" opacity="0.55"/>
<rect x="541.20" y="125.10" width="1.4" height="1.4" fill="#d8d8c8" opacity="0.55"/>
<rect x="545.80" y="125.10" width="1.4" height="1.4" fill="#d8d8c8" opacity="0.58"/>
<rect x="549.10" y="125.10" width="1.4" height="1.4" fill="#d8d8c8" opacity="0.58"/>
<rect x="552.40" y="125.10" width="1.4" height="1.4" fill="#d8d8c8" opacity="0.58"/>
<rect x="555.70" y="125.10" width="1.4" height="1.4" fill="#d8d8c8" opacity="0.58"/>
<rect x="493" y="125.2" width="20" height="1.3" fill="#c8c8b8" opacity="0.5"/>
</g>
<g id="icon-mouse">
<rect x="570" y="89" width="58" height="52" fill="#ffffff" opacity="0.9"/>
<path d="M599.6 93.6 Q600.6 95.6 600.2 97.6" stroke="#222" stroke-width="0.9" fill="none"/>
<path d="M600.2 97.4 C593 97.4 588.8 102.6 588.6 111 C588.4 119 588.6 127 590.6 132.6 C592.6 137.6 596.4 138.8 600.4 138.8 C604.6 138.8 608.4 137.6 610.2 132.6 C612.2 127 612.4 119 612 111 C611.6 102.6 607.4 97.4 600.2 97.4 Z" fill="url(#mouseG)"/>
<path d="M600.2 98.4 L600.2 110.5" stroke="#050505" stroke-width="0.7"/>
<rect x="599.4" y="102.4" width="1.7" height="4.4" rx="0.8" fill="#4a4a4e"/>
</g>
<g id="icon-hub">
<rect x="643.5" y="95.5" width="77.5" height="49.5" fill="#ffffff" opacity="0.92"/>
<path d="M690 107.4 Q699 103 708 105 Q716 107 714.4 114 Q712.6 120 700 124.6 L688 129.6" stroke="#111113" stroke-width="2.4" fill="none" stroke-linecap="round"/>
<path d="M647 127 L690.6 103.6 L698.6 107.6 L698.6 112.4 L655.6 138.6 L647 134.6 Z" fill="url(#hubG)"/>
<path d="M647 127 L690.6 103.6 L698.6 107.6 L655.6 131.4 Z" fill="#38383c"/>
<path d="M655.6 131.4 L698.6 107.6 L698.6 112.4 L655.6 138.6 Z" fill="#101012"/>
<path d="M663.0 130.4 l5.4 -3 l0 2.4 l-5.4 3 Z" fill="#2a56b8"/>
<path d="M671.6 125.5 l5.4 -3 l0 2.4 l-5.4 3 Z" fill="#2a56b8"/>
<path d="M680.2 120.6 l5.4 -3 l0 2.4 l-5.4 3 Z" fill="#2a56b8"/>
<path d="M688.8 115.7 l5.4 -3 l0 2.4 l-5.4 3 Z" fill="#2a56b8"/>
<path d="M678 131 L690 126 L692 131.4 L680 136.6 Z" fill="#1a1a1c"/>
<path d="M671.6 134.2 L679 131 L681 136.2 L673.6 139.6 Z" fill="#b9bec6"/>
<path d="M673 135.4 L678 133.2 L679 135.8 L674 138 Z" fill="#2a66d8"/>
</g>
<g id="icon-tv">
<path d="M173.4 488.6 Q190 487 203 487.2 L229 491 L228.6 492.4 L203 489.2 Q190 489 173.6 490 Z" fill="#8e8e94"/>
<path d="M185 485 L203 487.4 L203 489 L185 486.4 Z" fill="#a8a8ae"/>
<path d="M201 483 L204.4 483 L204.4 488 L201 488 Z" fill="#b8b8be"/>
<path d="M162.3 431.4 L246.4 424.8 L246.4 485.6 L162.3 481.8 Z" fill="#16163c" stroke="#8a8a92" stroke-width="0.8"/>
<path d="M166.8 446.0 L181.3 445.4 L181.3 463.5 L166.8 463.5 Z" fill="#e8a22a"/>
<path d="M169.4 450.5 L178.0 450.2 L178.0 463.5 L169.4 463.5 Z" fill="#7a4a22"/>
<path d="M182.9 445.0 L199.4 444.3 L199.4 463.5 L182.9 463.5 Z" fill="#f0d060"/>
<path d="M183.7 454.8 L192.8 454.6 L192.8 463.5 L183.7 463.5 Z" fill="#4a8ad0"/>
<path d="M192.0 444.9 L199.4 444.6 L199.4 456.1 L192.0 456.2 Z" fill="#d85a20"/>
<path d="M200.5 443.2 L239.8 441.5 L239.8 463.9 L200.5 463.9 Z" fill="#e6efe8"/>
<path d="M215.8 443.9 L232.3 443.2 L232.3 463.9 L215.8 463.9 Z" fill="#c9b49a"/>
<path d="M220.8 442.8 L227.3 442.6 L227.3 452.2 L220.8 452.3 Z" fill="#8a5a3a"/>
<path d="M200.5 456.1 L215.8 455.9 L215.8 463.9 L200.5 463.9 Z" fill="#9ed0c8"/>
<path d="M166.8 465.0 L173.4 465.1 L173.4 474.4 L166.8 474.2 Z" fill="#f5c518"/>
<path d="M174.7 465.1 L181.3 465.1 L181.3 474.6 L174.7 474.4 Z" fill="#f59a1a"/>
<path d="M182.9 465.1 L190.0 465.1 L190.0 474.8 L182.9 474.6 Z" fill="#a3a354"/>
<path d="M191.1 465.1 L199.0 465.2 L199.0 475.0 L191.1 474.8 Z" fill="#8a30e0"/>
<path d="M200.2 465.2 L208.4 465.2 L208.4 475.3 L200.2 475.1 Z" fill="#50e030"/>
<path d="M209.7 465.2 L218.0 465.2 L218.0 475.5 L209.7 475.3 Z" fill="#f05020"/>
<path d="M219.4 465.3 L228.2 465.3 L228.2 475.8 L219.4 475.6 Z" fill="#5030e0"/>
<path d="M230.1 465.3 L240.0 465.3 L240.0 476.1 L230.1 475.8 Z" fill="#30d0a0"/>
<path d="M166.5 437.2 L174.7 436.6 L174.7 438.2 L166.5 438.7 Z" fill="#c8c8e0"/>
<path d="M182.1 435.5 L187.8 435.2 L187.8 436.8 L182.1 437.1 Z" fill="#8a8ab0"/>
<path d="M191.1 434.3 L196.9 433.9 L196.9 435.7 L191.1 436.1 Z" fill="#e0b040"/>
<path d="M218.3 430.1 L232.3 429.1 L232.3 430.8 L218.3 431.8 Z" fill="#8a8ab0"/>
<path d="M179.6 476.6 L222.4 477.9 L222.4 481.7 L179.6 480.0 Z" fill="#34346a"/>
<circle cx="238.4" cy="431.6" r="1.4" fill="#f0f0f0"/>
</g>
<g id="icon-meeting">
<rect x="294.4" y="450.9" width="102.7" height="59" fill="#0c0c0e"/>
<rect x="295.6" y="452" width="100.4" height="56.8" fill="url(#winG)"/>
<rect x="296" y="452.6" width="8" height="44" fill="#8a98a8"/>
<rect x="376" y="452.6" width="19.4" height="40" fill="#7e8a98"/>
<rect x="328" y="452.6" width="2" height="36" fill="#6a7684"/><rect x="354.6" y="452.6" width="2" height="32" fill="#6a7684"/>
<rect x="304" y="478" width="72" height="1.4" fill="#9aa6b4" opacity="0.7"/>
<ellipse cx="369" cy="474" rx="6" ry="9" fill="#3c8a3a"/>
<path d="M307 507.6 L330 489 L372 489 L380 507.6 Z" fill="#f6f6f4"/>
<circle cx="315.4" cy="478" r="3.6" fill="#2a2220"/><path d="M304 500 Q306 484 316 483 Q324 484 325 498 L322 507 L300 507 Z" fill="#e9e6e2"/>
<circle cx="321" cy="477" r="2.8" fill="#2a2220"/>
<circle cx="343.4" cy="476.6" r="2.8" fill="#5a4a40"/><path d="M338.4 489 Q339 481 343.6 480.6 Q348.6 481 349.6 489 Z" fill="#2c3038"/>
<circle cx="369.4" cy="476.6" r="3" fill="#1a1616"/><path d="M364 492 Q365 481.6 370 481.4 Q375 482 376 494 Z" fill="#6a84b8"/>
<circle cx="374" cy="482" r="3.6" fill="#1a1616"/><path d="M366 500 Q368 487 375 487 Q382 488 382 502 Z" fill="#e0e0e4"/>
<path d="M384 482 Q390 476 394 484 L395.4 500 L386 498 Z" fill="#1a1616"/><path d="M372 507.6 Q376 494 388 492 Q395.4 493 395.4 507.6 Z" fill="#8aa0d0"/>
<rect x="296" y="494" width="8" height="13.6" fill="#c9c4ba"/>
<rect x="295" y="451.5" width="101.5" height="57.8" fill="none" stroke="#0c0c0e" stroke-width="1.4"/>
</g>
<g id="icon-hub2">
<rect x="297" y="873" width="72" height="66" fill="#ffffff" opacity="0.85"/>
<path d="M334.6 883 Q341 876.6 350 877.6 Q356.6 879 355 885 Q352.6 891.6 346 898.4" stroke="#151517" stroke-width="3" fill="none" stroke-linecap="round"/>
<path d="M306.4 921.4 L331.6 881.4 L337.4 884.6 L313 925.4 Z" fill="url(#hub2G)"/>
<path d="M306.4 921.4 L313 925.4 L312.4 928 L306 924 Z" fill="#3a62c8"/>
<path d="M321.6 905 l2 -3.2 l1.6 1 l-2 3.2 Z M326 898 l2 -3.2 l1.6 1 l-2 3.2 Z M316.8 912.6 l2 -3.2 l1.6 1 l-2 3.2 Z" fill="#3a62c8"/>
<path d="M344 897 L348.4 900 L343 907.4 L338.6 904.4 Z" fill="#a6a9b2"/>
<path d="M339.4 905 L342 906.8 L340 909.6 L337.4 907.8 Z" fill="#d9dbe0"/>
</g>
<g id="icon-caster">
<rect x="381" y="868" width="60" height="72" fill="#ffffff" opacity="0.8"/>
<path d="M420.6 908 Q425.4 898 427.4 889 L430 878" stroke="#151517" stroke-width="3.4" fill="none" stroke-linecap="round"/>
<rect x="427.4" y="874" width="5.6" height="9" rx="1" fill="#1c1c1e" transform="rotate(14 430 878)"/>
<rect x="429.6" y="871.4" width="3.4" height="3.6" fill="#2e2e32" transform="rotate(14 431 873)"/>
<ellipse cx="397.4" cy="894.4" rx="11" ry="9.6" fill="url(#discG)" transform="rotate(20 397.4 894.4)"/>
<ellipse cx="397.8" cy="893.4" rx="8.6" ry="7.2" fill="none" stroke="#303034" stroke-width="0.8" transform="rotate(20 397.8 893.4)"/>
<ellipse cx="413.4" cy="920.6" rx="16" ry="13.4" fill="url(#discG)" transform="rotate(-32 413.4 920.6)"/>
<ellipse cx="414" cy="919.4" rx="12.6" ry="10" fill="none" stroke="#303034" stroke-width="0.8" transform="rotate(-32 414 919.4)"/>
</g>
<g id="icon-mic">
<rect x="516" y="838" width="50" height="70" fill="#ffffff" opacity="0.7" filter="url(#soft)"/>
<path d="M524 845.4 Q541 850 545.6 868 Q547.6 882 547 893" stroke="#1a1a1c" stroke-width="1.5" fill="none"/>
<rect x="521.4" y="843" width="8" height="3.4" rx="1.6" fill="#1a1a1c" transform="rotate(18 525 845)"/>
<ellipse cx="544.6" cy="894.6" rx="12" ry="4.2" fill="none" stroke="#2a2a2c" stroke-width="0.9"/>
<path d="M529.6 874 L529.6 888 Q530 893 536 894" stroke="#2a2a2c" stroke-width="0.9" fill="none"/>
<rect x="528.8" y="870" width="1.6" height="6" fill="#2a2a2c"/>
<path d="M533.6 899 Q534 893.6 541 892.6 L549 892.6 Q553 893.6 553.4 899 Q553 902.4 543.4 902.6 Q534 902.4 533.6 899 Z" fill="#121214"/>
</g>
<g id="icon-speaker">
<rect x="588" y="840" width="42" height="66" fill="#ffffff" opacity="0.6" filter="url(#soft)"/>
<path d="M594 848.6 Q594 846.4 596.4 846.2 L620.6 845.8 Q624.4 846 624.6 849 L624.8 897.6 Q624.6 900.6 621.4 900.8 L596.6 901 Q593.6 900.8 593.4 898 Z" fill="url(#spkG)"/>
<circle cx="609" cy="885" r="9.8" fill="#0a0a0b" stroke="#3a3a3e" stroke-width="1.2"/>
<circle cx="609" cy="885" r="5.6" fill="#1c1c1f"/><circle cx="609" cy="885" r="2.2" fill="#060607"/>
<circle cx="609" cy="862" r="2.6" fill="#0a0a0b" stroke="#3a3a3e" stroke-width="0.8"/>
<rect x="608" y="871.6" width="2" height="1.2" fill="#c8c8c8"/>
</g>
<g id="annotations">
<path class="ln" d="M437 162 L437 189 L664.2 211.2 L664.2 182"/>
<path class="ln" d="M513.2 168 L513.2 196.6"/>
<path class="ln" d="M594.8 176 L594.8 204.6"/>
<path class="ln" d="M610.3 206 L610.3 278.6"/>
<circle class="dot" cx="437.0" cy="162.0" r="5.1"/>
<circle class="dot" cx="513.2" cy="168.2" r="5.1"/>
<circle class="dot" cx="594.8" cy="176.0" r="5.1"/>
<circle class="dot" cx="664.2" cy="182.2" r="5.1"/>
<path class="ln" d="M574.8 291.6 L654.2 265.4 L654.2 287.6 L574.8 316.8 Z"/>
<path class="ln" d="M217.6 270.8 L403.7 300.6 L403.7 342 L217.6 308.9 Z"/>
<path class="ln" d="M409 301.6 L444 308 L444 345.4 L409 340.8 Z"/>
<path class="ln" d="M271.1 318 L271.1 369.8"/>
<path class="ln" d="M203.6 386.6 L203.6 357.3 L344.2 383.7 L344.2 416.2"/>
<circle class="dot" cx="203.6" cy="386.6" r="5.1"/><circle class="dot" cx="344.2" cy="416.2" r="5.1"/>
<path class="ln" d="M436.8 344.6 L436.8 408.7"/>
<circle class="dot" cx="436.8" cy="408.7" r="5.1"/>
<path class="ln" d="M333.8 832.7 L333.8 803.4 L509 746"/>
<path class="ln" d="M430.7 771.6 L430.7 832.7"/>
<circle class="dot" cx="333.8" cy="832.7" r="5.1"/><circle class="dot" cx="430.7" cy="832.7" r="5.1"/>
<path class="ln" d="M543 742.6 L543 807.8"/>
<circle class="dot" cx="543" cy="807.8" r="5.1"/>
<text class="lb" x="437.8" y="151.8" text-anchor="middle">摄像头</text>
<text class="lb" x="509.6" y="158.0" text-anchor="middle">键盘</text>
<text class="lb" x="594.6" y="164.4" text-anchor="middle">鼠标</text>
<text class="lb" x="669.4" y="170.8" text-anchor="middle">拓展坞</text>
<text class="lb" x="204.0" y="411.8" text-anchor="middle">电视机</text>
<text class="lb" x="342.6" y="440.6" text-anchor="middle">会议大屏</text>
<text class="lb" x="463.8" y="436.2" text-anchor="middle">1000M 网络</text>
<text class="lb" x="333.6" y="859.0" text-anchor="middle">拓展坞</text>
<text class="lb" x="427.3" y="859.0" text-anchor="middle">无线投屏器</text>
<text class="lb" x="571.0" y="832.4" text-anchor="middle">麦克风、音响</text>
</g>
</svg>
</body>
</html>
